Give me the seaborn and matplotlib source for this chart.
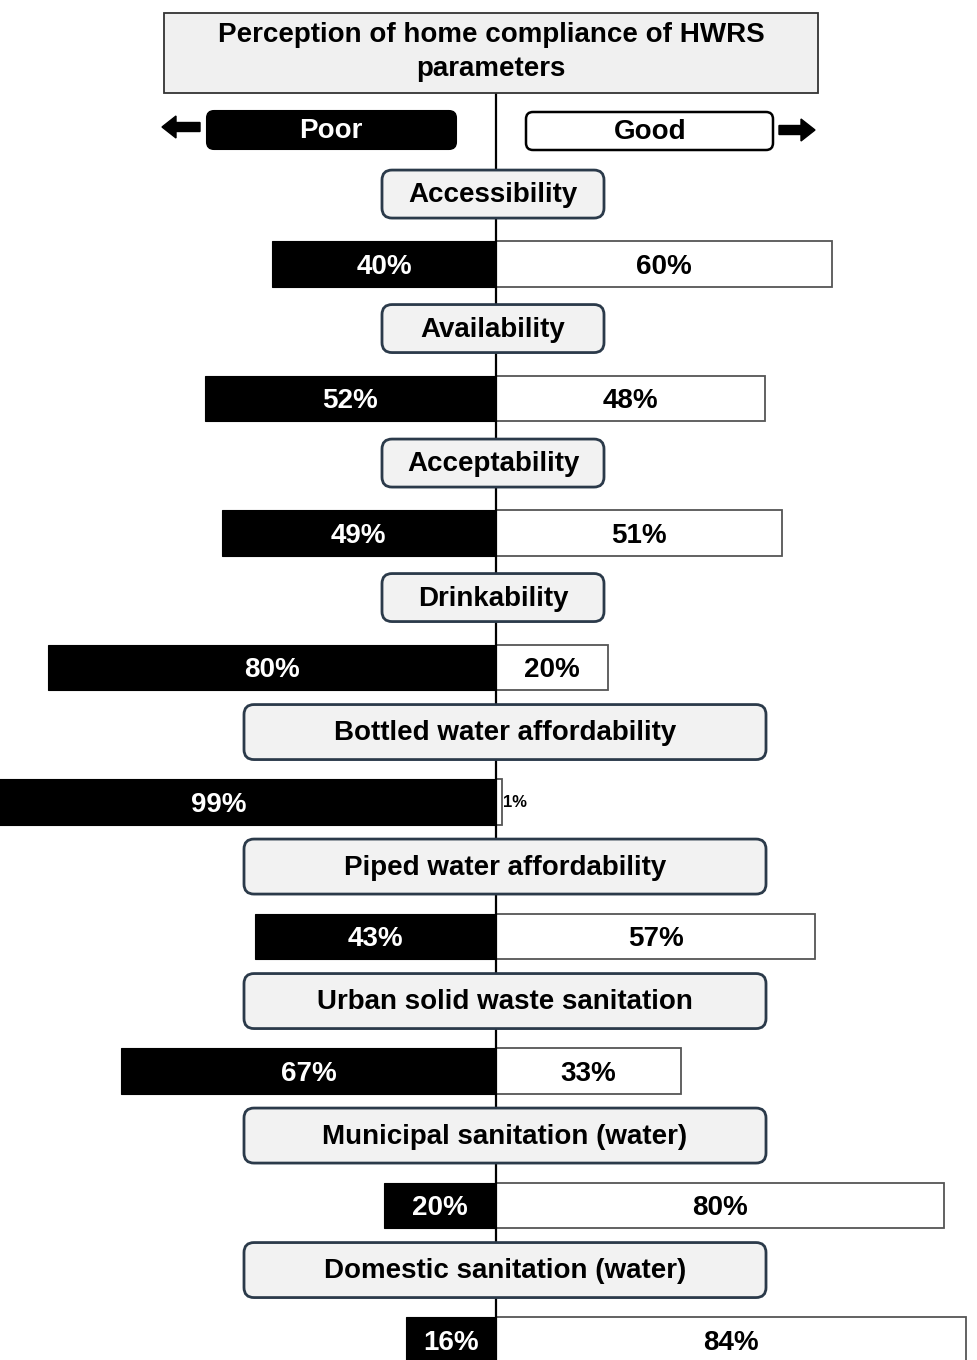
import numpy as np
import pandas as pd
import matplotlib
matplotlib.use("Agg")
import matplotlib.pyplot as plt
from matplotlib.patches import FancyBboxPatch, Rectangle, FancyArrow
import seaborn as sns

# ---- data ----
categories = ["Accessibility", "Availability", "Acceptability", "Drinkability",
              "Bottled water affordability", "Piped water affordability",
              "Urban solid waste sanitation", "Municipal sanitation (water)",
              "Domestic sanitation (water)"]
poor = [40, 52, 49, 80, 99, 43, 67, 20, 16]
good = [60, 48, 51, 20, 1, 57, 33, 80, 84]
title_text = "Perception of home compliance of HWRS\nparameters"
legend_labels = ["Poor", "Good"]

df = pd.DataFrame({"Parameter": categories, "Poor": poor, "Good": good})

sns.set_theme(style="white")
plt.rcParams["font.family"] = ["Liberation Sans", "DejaVu Sans"]
plt.rcParams["text.color"] = "black"

W, H = 977, 1360
fig = plt.figure(figsize=(W / 100, H / 100), dpi=100)
fig.patch.set_facecolor("white")

# main data axes
ax = fig.add_axes([0, 0, 1, 1])
CX, SX = 496, 5.6      # pixel of x=0, pixels per percent
Y0, SY = 264, 134.5    # pixel of first row, pixels per row

sns.barplot(x=-df["Poor"], y=df["Parameter"], orient="h", color="black",
            saturation=1, width=0.335, edgecolor="black", linewidth=0.8, ax=ax)
sns.barplot(x=df["Good"], y=df["Parameter"], orient="h", color="white",
            saturation=1, width=0.335, edgecolor="#555555", linewidth=1.3, ax=ax)

ax.set_xlim((0 - CX) / SX, (W - CX) / SX)
ax.set_ylim((H - Y0) / SY, (0 - Y0) / SY)
ax.axis("off")

fs = 20
for i, (p, g) in enumerate(zip(df["Poor"], df["Good"])):
    ax.text(-p / 2, i + 0.02, f"{p}%", ha="center", va="center", color="white",
            fontsize=fs, fontweight="bold")
    if g >= 5:
        ax.text(g / 2, i + 0.02, f"{g}%", ha="center", va="center", color="black",
                fontsize=fs, fontweight="bold")
    else:
        ax.text(g + 0.3, i, f"{g}%", ha="left", va="center", color="black",
                fontsize=12, fontweight="bold")

# overlay axes in pixel coordinates for decorations
ov = fig.add_axes([0, 0, 1, 1])
ov.set_xlim(0, W)
ov.set_ylim(H, 0)
ov.axis("off")

# center line
ov.plot([CX, CX], [93, H], color="black", lw=1.6, zorder=1)

# title box
ov.add_patch(Rectangle((164, 13), 654, 80, facecolor="#f0f0f0",
                       edgecolor="#333333", lw=1.3, zorder=3))
ov.text(491, 52, title_text, ha="center", va="center", fontsize=20,
        fontweight="bold", linespacing=1.4, color="black", zorder=4)

# Poor / Good legend boxes
ov.add_patch(FancyBboxPatch((207, 111), 249, 38,
                            boxstyle="round,pad=0,rounding_size=7",
                            facecolor="black", edgecolor="black", lw=1.5, zorder=3))
ov.text(331, 131, legend_labels[0], ha="center", va="center", color="white",
        fontsize=fs, fontweight="bold", zorder=4)
ov.add_patch(FancyBboxPatch((526, 112), 247, 38,
                            boxstyle="round,pad=0,rounding_size=7",
                            facecolor="white", edgecolor="black", lw=1.8, zorder=3))
ov.text(650, 132, legend_labels[1], ha="center", va="center", color="black",
        fontsize=fs, fontweight="bold", zorder=4)
ov.add_patch(FancyArrow(200, 127, -38, 0, width=9, head_width=22, head_length=14,
                        length_includes_head=True, color="black", zorder=3))
ov.add_patch(FancyArrow(779, 130, 36, 0, width=9, head_width=22, head_length=14,
                        length_includes_head=True, color="black", zorder=3))

# category label boxes
for i, lab in enumerate(df["Parameter"]):
    short = len(lab) < 15
    bw = 222 if short else 522
    bh = 48 if short else 55
    cx = 493 if short else 505
    cy = Y0 + (i - 0.52) * SY
    ov.add_patch(FancyBboxPatch((cx - bw / 2, cy - bh / 2), bw, bh,
                                boxstyle="round,pad=0,rounding_size=10",
                                facecolor="#f2f2f2", edgecolor="#2b3a4a",
                                lw=2, zorder=3))
    ov.text(cx, cy + 1, lab, ha="center", va="center", fontsize=fs,
            fontweight="bold", color="black", zorder=4)

fig.savefig("out.png", dpi=100, facecolor="white")
